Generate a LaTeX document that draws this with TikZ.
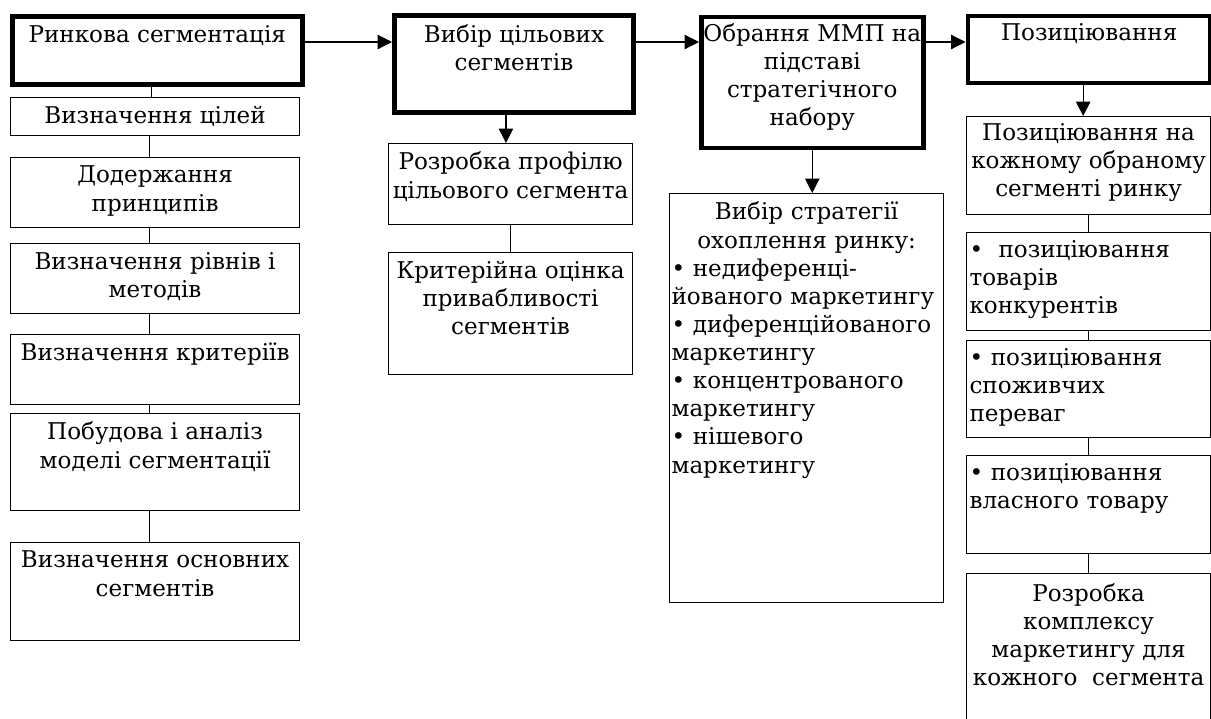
\documentclass[tikz,border=0pt]{standalone}
\usepackage{fontspec}
\setmainfont{DejaVu Serif}
\usetikzlibrary{positioning,arrows.meta}

\begin{document}
\begin{tikzpicture}[
    stage/.style={draw, line width=3.5pt, anchor=north west, inner sep=0pt},
    box/.style={draw, line width=0.8pt, anchor=north west, inner sep=0pt},
    txt/.style={inner sep=0pt, align=center, font=\fontsize{16.4pt}{20pt}\selectfont},
    ltxt/.style={txt, align=left, text width=5.95cm},
    link/.style={line width=0.8pt},
    arr/.style={line width=0.8pt, -{Triangle[length=0.36cm,width=0.36cm]}}
]
\clip (0,0) rectangle (30.275,-17.95);

% main stages
\node[stage, minimum width=7.24cm, minimum height=1.71cm] (r1) at (0.25,-0.35) {};
\node[stage, minimum width=5.975cm, minimum height=2.425cm] (r2) at (9.8,-0.325) {};
\node[stage, minimum width=5.54cm, minimum height=3.275cm] (r3) at (17.475,-0.3625) {};
\node[stage, minimum width=6.06cm, minimum height=1.675cm] (r4) at (24.1375,-0.3375) {};
\node[txt, below=0.28cm of r1.north] (r1-t) {Ринкова сегментація};
\node[txt, below=0.28cm of r2.north] (r2-t) {Вибір цільових\\сегментів};
\node[txt, below=0.22cm of r3.north] (r3-t) {Обрання ММП на\\підставі\\стратегічного\\набору};
\node[txt, below=0.25cm of r4.north] (r4-t) {Позиціювання};

% segmentation steps
\node[box, minimum width=7.225cm, minimum height=0.95cm] (c1) at (0.25,-2.425) {};
\node[box, minimum width=7.225cm, minimum height=1.75cm] (c2) at (0.25,-3.925) {};
\node[box, minimum width=7.225cm, minimum height=1.75cm] (c3) at (0.25,-6.075) {};
\node[box, minimum width=7.225cm, minimum height=1.75cm] (c4) at (0.25,-8.35) {};
\node[box, minimum width=7.225cm, minimum height=2.425cm] (c5) at (0.25,-10.325) {};
\node[box, minimum width=7.225cm, minimum height=2.45cm] (c6) at (0.25,-13.55) {};
\node[txt, below=0.22cm of c1.north] (c1-t) {Визначення цілей};
\node[txt, below=0.22cm of c2.north] (c2-t) {Додержання\\принципів};
\node[txt, below=0.22cm of c3.north] (c3-t) {Визначення рівнів і\\методів};
\node[txt, below=0.22cm of c4.north] (c4-t) {Визначення критеріїв};
\node[txt, below=0.22cm of c5.north] (c5-t) {Побудова і аналіз\\моделі сегментації};
\node[txt, below=0.22cm of c6.north] (c6-t) {Визначення основних\\сегментів};

% target segments
\node[box, minimum width=6.1cm, minimum height=2.025cm] (d1) at (9.7,-3.575) {};
\node[box, minimum width=6.1cm, minimum height=3.05cm] (d2) at (9.7,-6.3) {};
\node[txt, below=0.22cm of d1.north] (d1-t) {Розробка профілю\\цільового сегмента};
\node[txt, below=0.22cm of d2.north] (d2-t) {Критерійна оцінка\\привабливості\\сегментів};

% coverage strategy
\node[box, minimum width=6.85cm, minimum height=10.225cm] (e1) at (16.725,-4.825) {};
\node[ltxt, text width=6.75cm, below=0.22cm of e1.north] (e1-t)
    {{\centering Вибір стратегії\\охоплення ринку:\par}
     • недиференці-\\йованого маркетингу\\• диференційованого\\маркетингу\\
     • концентрованого\\маркетингу\\• нішевого\\маркетингу};

% positioning
\node[box, minimum width=6.1cm, minimum height=2.45cm] (f1) at (24.15,-2.9) {};
\node[box, minimum width=6.1cm, minimum height=2.45cm] (f2) at (24.15,-5.8) {};
\node[box, minimum width=6.1cm, minimum height=2.425cm] (f3) at (24.15,-8.5) {};
\node[box, minimum width=6.1cm, minimum height=2.45cm] (f4) at (24.15,-11.375) {};
\node[box, minimum width=6.1cm, minimum height=4cm] (f5) at (24.15,-14.325) {};
\node[txt, below=0.18cm of f1.north] (f1-t) {Позиціювання на\\кожному обраному\\сегменті ринку};
\node[ltxt, below=0.2cm of f2.north] (f2-t) {•\ \ позиціювання\\товарів\\конкурентів};
\node[ltxt, below=0.2cm of f3.north] (f3-t) {• позиціювання\\споживчих\\переваг};
\node[ltxt, below=0.2cm of f4.north] (f4-t) {• позиціювання\\власного товару};
\node[txt, below=0.25cm of f5.north] (f5-t) {Розробка\\комплексу\\маркетингу для\\кожного\ \ сегмента};

% connectors
\coordinate (lvl) at (0,-1.05);
\draw[arr] (r1.east |- lvl) -- (r2.west |- lvl);
\draw[arr] (r2.east |- lvl) -- (r3.west |- lvl);
\draw[arr] (r3.east |- lvl) -- (r4.west |- lvl);
\draw[arr] ([xshift=-0.2cm]r2.south) -- ([xshift=-0.2cm]r2.south |- d1.north);
\draw[arr] (r3.south) -- (r3.south |- e1.north);
\draw[arr] ([xshift=-0.15cm]r4.south) -- ([xshift=-0.15cm]r4.south |- f1.north);
\foreach \a/\b in {r1/c1,c1/c2,c2/c3,c3/c4,c4/c5,c5/c6}
    \draw[link] ([xshift=-0.15cm]\a.south) -- ([xshift=-0.15cm]\a.south |- \b.north);
\foreach \a/\b in {d1/d2,f1/f2,f2/f3,f3/f4,f4/f5}
    \draw[link] (\a.south) -- (\a.south |- \b.north);
\end{tikzpicture}
\end{document}
